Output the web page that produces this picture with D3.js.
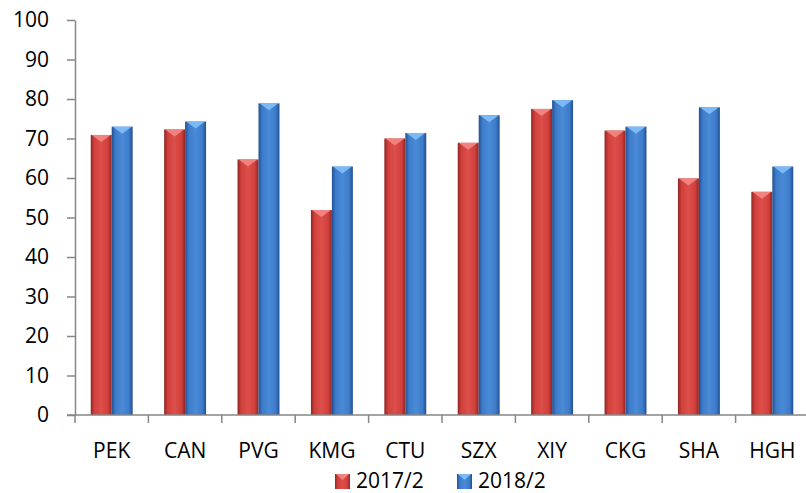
<!DOCTYPE html>
<html>
<head>
<meta charset="utf-8">
<script src="https://cdn.jsdelivr.net/npm/d3@7"></script>
<style>
  body { margin: 0; background: #fff; }
  text { font-family: "Open Sans", sans-serif; fill: #000; }
</style>
</head>
<body>
<script>
var airports = ["PEK", "CAN", "PVG", "KMG", "CTU", "SZX", "XIY", "CKG", "SHA", "HGH"];
var series = ["2017/2", "2018/2"];
var vals2017 = [70.9, 72.3, 64.7, 51.9, 70.0, 68.9, 77.5, 72.0, 59.9, 56.5];
var vals2018 = [73.0, 74.3, 78.9, 62.9, 71.4, 75.9, 79.7, 73.0, 77.9, 62.9];
var yTicks = [0, 10, 20, 30, 40, 50, 60, 70, 80, 90, 100];

var width = 806, height = 493;

var svg = d3.select("body").append("svg")
  .attr("width", width)
  .attr("height", height);

// gradients for the bevelled bars
var defs = svg.append("defs");
var pal = {
  "2017/2": { edge: "#8f2624", mid: "#d2403c", light: "#dc4f4a", cap: "#f0837e" },
  "2018/2": { edge: "#24508e", mid: "#3c7ccb", light: "#4a8ad6", cap: "#7cbaf5" }
};
series.forEach(function (s, i) {
  var g = defs.append("linearGradient").attr("id", "grad" + i)
    .attr("x1", "0").attr("x2", "1").attr("y1", "0").attr("y2", "0");
  g.append("stop").attr("offset", "0%").attr("stop-color", pal[s].edge);
  g.append("stop").attr("offset", "18%").attr("stop-color", pal[s].mid);
  g.append("stop").attr("offset", "50%").attr("stop-color", pal[s].light);
  g.append("stop").attr("offset", "82%").attr("stop-color", pal[s].mid);
  g.append("stop").attr("offset", "100%").attr("stop-color", pal[s].edge);
});

var x0 = d3.scaleBand().domain(airports).range([75, 809]).padding(0);
var x1 = d3.scaleBand().domain(series).range([0, x0.bandwidth()]).paddingInner(0).paddingOuter(0.75);
var y = d3.scaleLinear().domain([0, 100]).range([415, 20]);

var rows = airports.map(function (a, i) {
  return { name: a, values: [{ s: series[0], i: 0, v: vals2017[i] }, { s: series[1], i: 1, v: vals2018[i] }] };
});

// y axis
var yAxis = svg.append("g")
  .attr("transform", "translate(75,0)")
  .call(d3.axisLeft(y).tickValues(yTicks).tickSize(8).tickPadding(18).tickSizeOuter(0));
yAxis.select(".domain").attr("stroke", "#868686").attr("stroke-width", 1.5);
yAxis.selectAll(".tick line").attr("stroke", "#868686").attr("stroke-width", 1.5);
yAxis.selectAll(".tick text").style("font-size", "21px").style("font-family", "Open Sans");

// bars
var groups = svg.append("g").selectAll("g")
  .data(rows).enter().append("g")
  .attr("transform", function (d) { return "translate(" + x0(d.name) + ",0)"; });

var bars = groups.selectAll("g.bar")
  .data(function (d) { return d.values; })
  .enter().append("g").attr("class", "bar");

bars.append("rect")
  .attr("x", function (d) { return x1(d.s); })
  .attr("y", function (d) { return y(d.v); })
  .attr("width", x1.bandwidth())
  .attr("height", function (d) { return y(0) - y(d.v); })
  .attr("fill", function (d) { return "url(#grad" + d.i + ")"; });

// top bevel: light triangle pointing down
bars.append("path")
  .attr("d", function (d) {
    var xa = x1(d.s), xb = xa + x1.bandwidth(), yt = y(d.v);
    var xm = (xa + xb) / 2;
    return "M" + (xa + 1) + "," + yt + "L" + (xb - 1) + "," + yt + "L" + xm + "," + (yt + 7) + "Z";
  })
  .attr("fill", function (d) { return pal[d.s].cap; });

// x axis
var xAxis = svg.append("g")
  .attr("transform", "translate(0,415)");
xAxis.append("line")
  .attr("x1", 67).attr("x2", 806).attr("y1", 0).attr("y2", 0)
  .attr("stroke", "#868686").attr("stroke-width", 1.5);
xAxis.selectAll("line.tk")
  .data(airports).enter().append("line").attr("class", "tk")
  .attr("x1", function (d) { return x0(d); })
  .attr("x2", function (d) { return x0(d); })
  .attr("y1", 0).attr("y2", 8)
  .attr("stroke", "#868686").attr("stroke-width", 1.5);
xAxis.selectAll("text")
  .data(airports).enter().append("text")
  .attr("x", function (d) { return x0(d) + x0.bandwidth() / 2; })
  .attr("y", 43)
  .attr("text-anchor", "middle")
  .style("font-size", "21px")
  .text(function (d) { return d; });

// legend
var legendX = [335, 457];
var legend = svg.append("g").selectAll("g")
  .data(series).enter().append("g")
  .attr("transform", function (d, i) { return "translate(" + legendX[i] + ",474)"; });
legend.append("rect")
  .attr("width", 15).attr("height", 15)
  .attr("fill", function (d, i) { return "url(#grad" + i + ")"; });
legend.append("path")
  .attr("d", "M1,0L14,0L7.5,6Z")
  .attr("fill", function (d) { return pal[d].cap; });
legend.append("text")
  .attr("x", 21).attr("y", 14)
  .style("font-size", "21px")
  .text(function (d) { return d; });
</script>
</body>
</html>
